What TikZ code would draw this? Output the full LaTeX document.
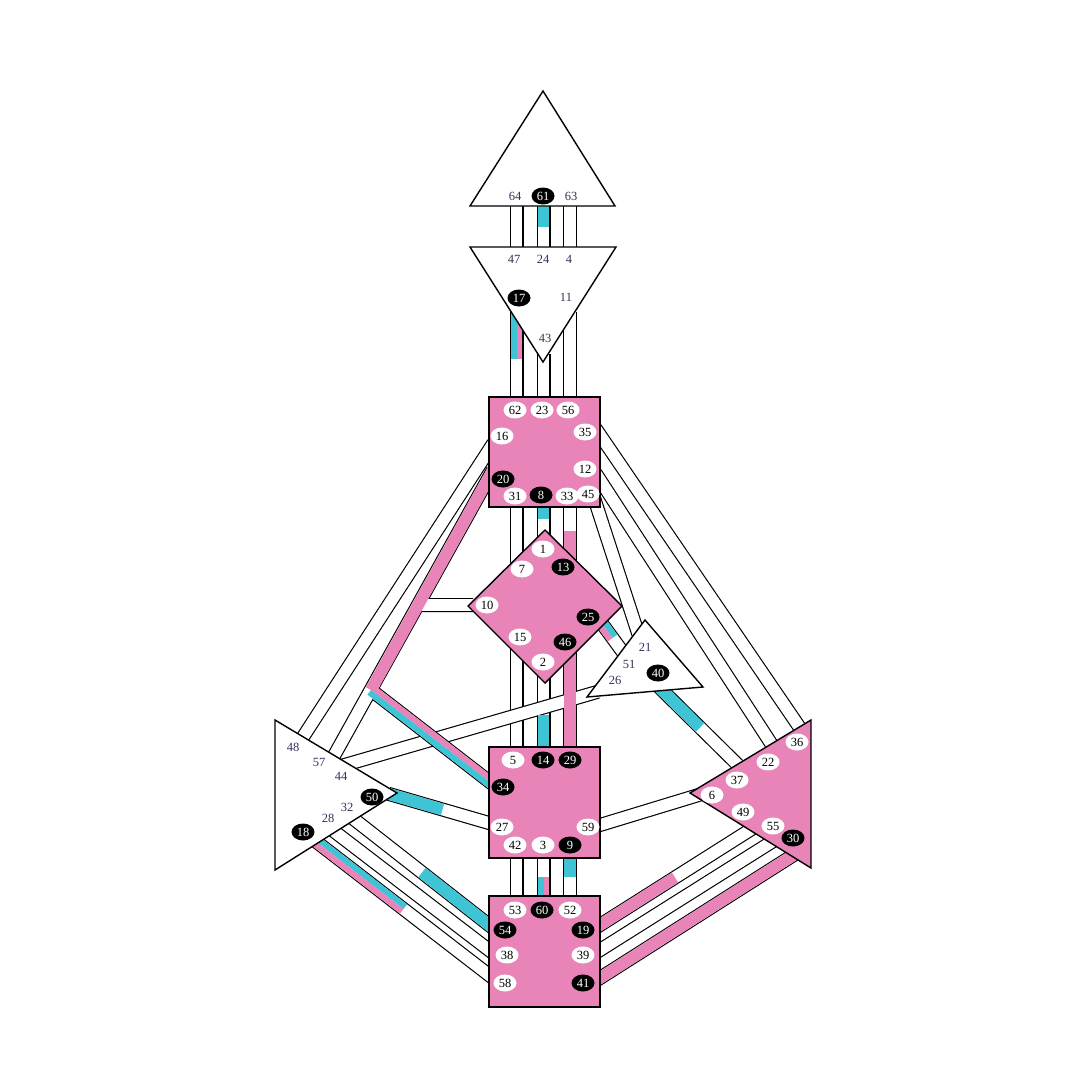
\documentclass[tikz,border=0pt]{standalone}
\usepackage{fontspec}
\setmainfont{Liberation Serif}
\usepackage{tikz}
\usetikzlibrary{calc,shapes.geometric}
\definecolor{hdpink}{RGB}{232,132,184}
\definecolor{hdcyan}{RGB}{62,196,212}
\definecolor{gatetext}{RGB}{50,50,90}

\tikzset{
  channel/.style={draw=black,line width=1.15pt,double=white,double distance=11.7pt},
  cystripe/.style={draw=hdcyan,line width=11.7pt},
  pkstripe/.style={draw=hdpink,line width=11.7pt},
  cyhalf/.style={draw=hdcyan,line width=5.85pt},
  pkhalf/.style={draw=hdpink,line width=5.85pt},
  hdcenter/.style={draw=black,line width=1.4pt,line join=miter},
  gate/.style={ellipse,fill=white,inner sep=0pt,minimum width=23pt,minimum height=17pt,font=\fontsize{12.5}{13}\selectfont},
  gateon/.style={gate,fill=black,text=white},
  gatetxt/.style={inner sep=0pt,text=gatetext,font=\fontsize{12.5}{13}\selectfont}
}
\newcommand{\hdchan}[2]{\draw[channel] ($(#1)!-8pt!(#2)$) -- ($(#2)!-8pt!(#1)$);}
\newcommand{\halfon}[3]{\draw[#1] ($(#2)!-8pt!(#3)$) -- ($(#2)!.5!(#3)$);}
\newcommand{\fullon}[3]{\draw[#1] ($(#2)!-8pt!(#3)$) -- ($(#3)!-8pt!(#2)$);}
% half channel in two colours, #3 on one side, #4 on the other
\newcommand{\halfsplit}[4]{%
  \coordinate (sa) at ($(#1)!-8pt!(#2)$);
  \coordinate (sb) at ($(#1)!.5!(#2)$);
  \draw[#3] ($(sa)!2.925pt!90:(sb)$) -- ($(sb)!2.925pt!-90:(sa)$);
  \draw[#4] ($(sa)!2.925pt!-90:(sb)$) -- ($(sb)!2.925pt!90:(sa)$);}

\begin{document}
\begin{tikzpicture}[x=1pt,y=-1pt]
\useasboundingbox (0,0) rectangle (1080,1080);

% gate ends of the channels
\coordinate (g64) at (516.5,207); \coordinate (g47) at (516.5,247);
\coordinate (g61) at (543.5,207); \coordinate (g24) at (543.5,247);
\coordinate (g63) at (570,207);   \coordinate (g4)  at (570,247);
\coordinate (g17) at (516.5,320); \coordinate (g62) at (516.5,397);
\coordinate (g43) at (543.5,362); \coordinate (g23) at (543.5,397);
\coordinate (g11) at (570,320);   \coordinate (g56) at (570,397);
\coordinate (g31) at (516.5,507); \coordinate (g7)  at (516.5,558);
\coordinate (g8)  at (543.5,507); \coordinate (g1)  at (543.5,531);
\coordinate (g33) at (570,507);   \coordinate (g13) at (570,555);
\coordinate (g15) at (516.5,655); \coordinate (g5)  at (516.5,747);
\coordinate (g2)  at (543.5,682); \coordinate (g14) at (543.5,747);
\coordinate (g46) at (570,658);   \coordinate (g29) at (570,747);
\coordinate (g42) at (516.5,858); \coordinate (g53) at (516.5,896);
\coordinate (g3)  at (543.5,858); \coordinate (g60) at (543.5,896);
\coordinate (g9)  at (570,858);   \coordinate (g52) at (570,896);
\coordinate (g16) at (489,450);   \coordinate (g48) at (303,737);
\coordinate (g35) at (600,435);   \coordinate (g36) at (800,728);
\coordinate (g12) at (600,480);   \coordinate (g22) at (772,745);
\coordinate (g45) at (597,507);   \coordinate (g21) at (637,630);
\coordinate (g25) at (603,625);   \coordinate (g51) at (622,651);
\coordinate (g40) at (662,690);   \coordinate (g37) at (738,765);
\coordinate (g26) at (590,694);   \coordinate (g44) at (348,764);
\coordinate (g50) at (396,796);   \coordinate (g27) at (489,823);
\coordinate (g59) at (600,825);   \coordinate (g6)  at (692,797);
\coordinate (g32) at (355,820);   \coordinate (g54) at (489,925);
\coordinate (g28) at (335,832);   \coordinate (g38) at (489,950);
\coordinate (g18) at (318,843);   \coordinate (g58) at (489,975);
\coordinate (g49) at (750,830);   \coordinate (g19) at (600,925);
\coordinate (g55) at (770,843);   \coordinate (g39) at (600,950);
\coordinate (g30) at (792,856);   \coordinate (g41) at (600,978);
\coordinate (g20) at (493,470);   \coordinate (g57) at (330,763);
\coordinate (g34) at (495,786);   \coordinate (g10) at (473,605);
\coordinate (jB)  at (371,690);   \coordinate (j10) at (418,605);

% channels
\hdchan{g64}{g47} \hdchan{g61}{g24} \hdchan{g63}{g4}
\hdchan{g17}{g62} \hdchan{g43}{g23} \hdchan{g11}{g56}
\hdchan{g31}{g7}  \hdchan{g8}{g1}   \hdchan{g33}{g13}
\hdchan{g15}{g5}  \hdchan{g2}{g14}  \hdchan{g46}{g29}
\hdchan{g42}{g53} \hdchan{g3}{g60}  \hdchan{g9}{g52}
\hdchan{g16}{g48} \hdchan{g35}{g36} \hdchan{g12}{g22}
\hdchan{g45}{g21} \hdchan{g25}{g51} \hdchan{g40}{g37}
\hdchan{g26}{g44} \hdchan{g50}{g27} \hdchan{g59}{g6}
\hdchan{g32}{g54} \hdchan{g28}{g38} \hdchan{g18}{g58}
\hdchan{g49}{g19} \hdchan{g55}{g39} \hdchan{g30}{g41}
\draw[channel] (g20) -- (g57) (jB) -- (g34) (j10) -- (g10);

% activated halves
\halfon{cystripe}{g61}{g24}
\halfsplit{g17}{g62}{pkhalf}{cyhalf}
\halfon{cystripe}{g8}{g1}
\halfon{pkstripe}{g13}{g33}
\halfon{cystripe}{g14}{g2}
\fullon{pkstripe}{g46}{g29}
\halfon{cystripe}{g9}{g52}
\halfsplit{g60}{g3}{cyhalf}{pkhalf}
\halfon{cystripe}{g50}{g27}
\halfon{cystripe}{g54}{g32}
\halfsplit{g18}{g58}{cyhalf}{pkhalf}
\halfon{pkstripe}{g19}{g49}
\fullon{pkstripe}{g41}{g30}
\halfsplit{g25}{g51}{cyhalf}{pkhalf}
\halfon{cystripe}{g40}{g37}
\draw[pkstripe] (g20) -- (jB);
\draw[pkhalf] ($(jB)!2.925pt!90:(g34)$) -- ($(g34)!2.925pt!-90:(jB)$);
\draw[cyhalf] ($(jB)!2.925pt!-90:(g34)$) -- ($(g34)!2.925pt!90:(jB)$);

% centers
\draw[hdcenter,fill=white] (543,91) -- (615,206) -- (470,206) -- cycle;
\draw[hdcenter,fill=white] (470,247) -- (616,247) -- (543,362) -- cycle;
\draw[hdcenter,fill=hdpink] (489,397) rectangle (600,507);
\draw[hdcenter,fill=hdpink] (545,530) -- (622,606) -- (545,683) -- (468,606) -- cycle;
\draw[hdcenter,fill=white] (645,620) -- (703,687) -- (587,697) -- cycle;
\draw[hdcenter,fill=white] (275,720) -- (397,793) -- (275,870) -- cycle;
\draw[hdcenter,fill=hdpink] (489,747) rectangle (600,858);
\draw[hdcenter,fill=hdpink] (811,720) -- (811,868) -- (690,793) -- cycle;
\draw[hdcenter,fill=hdpink] (489,896) rectangle (600,1007);

% head
\node[gatetxt] (n64) at (515,196) {64};
\node[gateon] (n61) at (543,196) {61};
\node[gatetxt] (n63) at (571,196) {63};
% ajna
\node[gatetxt] (n47) at (514,259) {47};
\node[gatetxt] (n24) at (543,259) {24};
\node[gatetxt] (n4) at (569,259) {4};
\node[gateon] (n17) at (519,298) {17};
\node[gatetxt] (n11) at (566,297) {11};
\node[gatetxt] (n43) at (545,338) {43};
% throat
\node[gate] (n62) at (515,410) {62};
\node[gate] (n23) at (542,410) {23};
\node[gate] (n56) at (568,410) {56};
\node[gate] (n16) at (502,436) {16};
\node[gate] (n35) at (585,432) {35};
\node[gate] (n12) at (585,469) {12};
\node[gateon] (n20) at (503,479) {20};
\node[gate] (n31) at (515,496) {31};
\node[gateon] (n8) at (541,495) {8};
\node[gate] (n33) at (567,496) {33};
\node[gate] (n45) at (588,494) {45};
% g
\node[gate] (n1) at (543,549) {1};
\node[gateon] (n13) at (563,567) {13};
\node[gate] (n7) at (522,569) {7};
\node[gate] (n10) at (487,605) {10};
\node[gateon] (n25) at (588,617) {25};
\node[gate] (n15) at (520,637) {15};
\node[gateon] (n46) at (565,642) {46};
\node[gate] (n2) at (543,662) {2};
% heart
\node[gatetxt] (n21) at (645,647) {21};
\node[gatetxt] (n51) at (629,664) {51};
\node[gatetxt] (n26) at (615,680) {26};
\node[gateon] (n40) at (658,673) {40};
% sacral
\node[gate] (n5) at (513,760) {5};
\node[gateon] (n14) at (543,760) {14};
\node[gateon] (n29) at (570,760) {29};
\node[gateon] (n34) at (503,787) {34};
\node[gate] (n27) at (502,827) {27};
\node[gate] (n59) at (588,827) {59};
\node[gate] (n42) at (515,845) {42};
\node[gate] (n3) at (543,845) {3};
\node[gateon] (n9) at (570,845) {9};
% root
\node[gate] (n53) at (515,910) {53};
\node[gateon] (n60) at (542,910) {60};
\node[gate] (n52) at (570,910) {52};
\node[gateon] (n54) at (505,930) {54};
\node[gateon] (n19) at (583,930) {19};
\node[gate] (n38) at (507,955) {38};
\node[gate] (n39) at (583,955) {39};
\node[gate] (n58) at (505,983) {58};
\node[gateon] (n41) at (583,983) {41};
% spleen
\node[gatetxt] (n48) at (293,747) {48};
\node[gatetxt] (n57) at (319,762) {57};
\node[gatetxt] (n44) at (341,776) {44};
\node[gateon] (n50) at (372,797) {50};
\node[gatetxt] (n32) at (347,807) {32};
\node[gatetxt] (n28) at (328,818) {28};
\node[gateon] (n18) at (303,832) {18};
% solar plexus
\node[gate] (n36) at (797,742) {36};
\node[gate] (n22) at (768,762) {22};
\node[gate] (n37) at (737,780) {37};
\node[gate] (n6) at (712,795) {6};
\node[gate] (n49) at (743,812) {49};
\node[gate] (n55) at (773,826) {55};
\node[gateon] (n30) at (793,838) {30};
\end{tikzpicture}
\end{document}
